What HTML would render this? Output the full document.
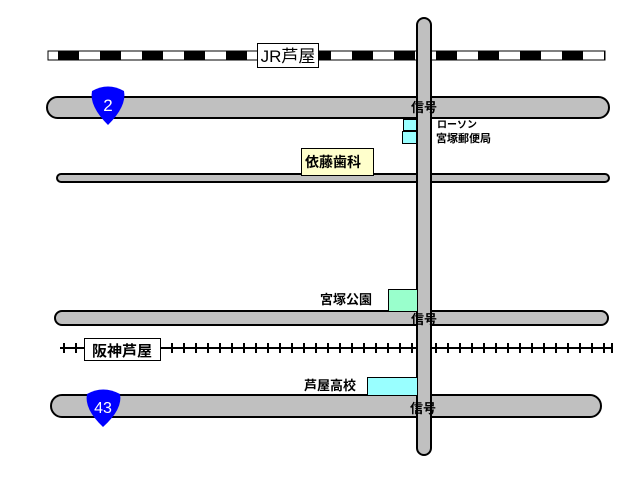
<!DOCTYPE html>
<html><head><meta charset="utf-8"><style>
html,body{margin:0;padding:0;background:#fff;}
svg{display:block;}
text{font-family:"Liberation Sans","Noto Sans CJK JP",sans-serif;}
</style></head><body>
<svg width="640" height="480" viewBox="0 0 640 480" xmlns="http://www.w3.org/2000/svg">
<rect width="640" height="480" fill="#fff"/>
<rect x="48" y="51" width="557" height="9" fill="#fff" stroke="#000" stroke-width="1"/>
<line x1="58" y1="55.5" x2="605" y2="55.5" stroke="#000" stroke-width="9" stroke-dasharray="21 21"/>
<rect x="257.5" y="43.5" width="61" height="24" fill="#fff" stroke="#000"/>
<text x="288" y="62" font-size="17" text-anchor="middle">JR芦屋</text>
<line x1="60" y1="348" x2="613" y2="348" stroke="#000" stroke-width="2"/>
<g stroke="#000" stroke-width="2">
<path d="M64 343v10M76 343v10M172 343v10M184 343v10M196 343v10M208 343v10M220 343v10M232 343v10M244 343v10M256 343v10M268 343v10M280 343v10M292 343v10M304 343v10M316 343v10M328 343v10M340 343v10M352 343v10M364 343v10M376 343v10M388 343v10M400 343v10M412 343v10M436 343v10M448 343v10M460 343v10M472 343v10M484 343v10M496 343v10M508 343v10M520 343v10M532 343v10M544 343v10M556 343v10M568 343v10M580 343v10M592 343v10M604 343v10M612 343v10"/>
</g>
<rect x="84.5" y="338.5" width="76" height="22" fill="#fff" stroke="#000"/>
<text x="122" y="356" font-size="15" font-weight="bold" text-anchor="middle">阪神芦屋</text>
<g fill="#c0c0c0" stroke="#000" stroke-width="2">
<rect x="47" y="97" width="562" height="21" rx="10.5"/>
<rect x="57" y="174" width="552" height="8" rx="4"/>
<rect x="55" y="311" width="553" height="14" rx="7"/>
<rect x="51" y="395" width="550" height="22" rx="11"/>
<rect x="417" y="18" width="14" height="437" rx="7"/>
</g>
<g fill="#c0c0c0">
<rect x="418" y="98" width="12" height="19"/>
<rect x="418" y="175" width="12" height="6"/>
<rect x="418" y="312" width="12" height="12"/>
<rect x="418" y="396" width="12" height="20"/>
</g>
<g stroke="#000" stroke-width="1">
<rect x="403.5" y="119.5" width="13" height="11" fill="#99ffff"/>
<rect x="402.5" y="131.5" width="14" height="12" fill="#99ffff"/>
<rect x="301.5" y="148.5" width="72" height="27" fill="#ffffcc"/>
<rect x="388.5" y="289.5" width="29" height="22" fill="#99ffcc"/>
<rect x="367.5" y="377.5" width="50" height="18" fill="#99ffff"/>
</g>
<g font-weight="bold">
<text x="305" y="167" font-size="14">依藤歯科</text>
<text x="437" y="128" font-size="10">ローソン</text>
<text x="436" y="142" font-size="11">宮塚郵便局</text>
<text x="320" y="304" font-size="13">宮塚公園</text>
<text x="304" y="390" font-size="13">芦屋高校</text>
<text x="411" y="112" font-size="13">信号</text>
<text x="411" y="324" font-size="13">信号</text>
<text x="410" y="413" font-size="13">信号</text>
</g>
<path d="M92 91 Q108 82 124 91 Q127 106 108 125 Q89 106 92 91Z" fill="#0000ff"/>
<text x="108" y="111" font-size="17" fill="#fff" text-anchor="middle">2</text>
<path d="M87 394 Q103 385 120 394 Q123 409 103 427 Q84 409 87 394Z" fill="#0000ff"/>
<text x="103" y="413" font-size="16" fill="#fff" text-anchor="middle">43</text>
</svg>
</body></html>
